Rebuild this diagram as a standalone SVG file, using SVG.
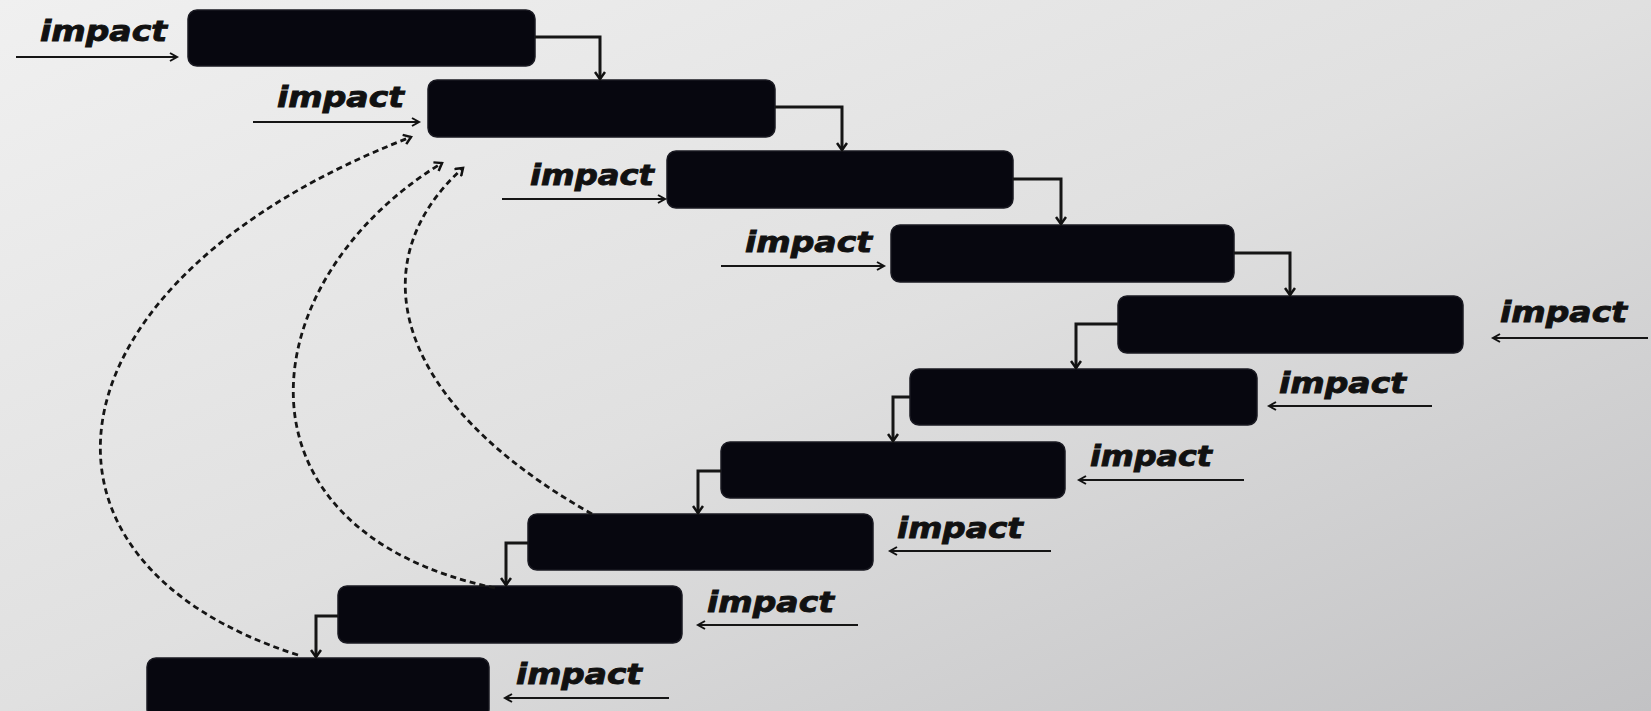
<svg xmlns="http://www.w3.org/2000/svg" width="1651" height="711" viewBox="0 0 1651 711">
<defs>
<linearGradient id="bg" x1="0" y1="0" x2="1" y2="1">
<stop offset="0" stop-color="#f0f0f0"/>
<stop offset="0.5" stop-color="#e0e0e0"/>
<stop offset="1" stop-color="#c2c2c4"/>
</linearGradient>
<marker id="ah" markerWidth="12" markerHeight="12" refX="9" refY="6" orient="auto" markerUnits="userSpaceOnUse">
<path d="M2,1 L9,6 L2,11" fill="none" stroke="#111" stroke-width="2.5"/>
</marker>
<marker id="ahs" markerWidth="12" markerHeight="12" refX="9" refY="6" orient="auto" markerUnits="userSpaceOnUse">
<path d="M2,2 L9,6 L2,10" fill="none" stroke="#111" stroke-width="2"/>
</marker>
</defs>
<style>
.box{fill:#07070f;stroke:#1a1a22;stroke-width:1.5}
.lbl{font-family:"DejaVu Sans",sans-serif;font-weight:bold;font-style:italic;font-size:28px;fill:#111;stroke:#111;stroke-width:0.9}
.flow{fill:none;stroke:#151515;stroke-width:3;marker-end:url(#ah)}
.imp{fill:none;stroke:#151515;stroke-width:2.2;marker-end:url(#ahs)}
.fb{fill:none;stroke:#151515;stroke-width:2.8;stroke-dasharray:6 4;marker-end:url(#ah)}
</style>
<rect width="1651" height="711" fill="url(#bg)"/>
<g id="node1"><rect class="box" x="188" y="10" width="347" height="56" rx="9"/></g>
<g id="node2"><rect class="box" x="428" y="80" width="347" height="57" rx="9"/></g>
<g id="node3"><rect class="box" x="667" y="151" width="346" height="57" rx="9"/></g>
<g id="node4"><rect class="box" x="891" y="225" width="343" height="57" rx="9"/></g>
<g id="node5"><rect class="box" x="1118" y="296" width="345" height="57" rx="9"/></g>
<g id="node6"><rect class="box" x="910" y="369" width="347" height="56" rx="9"/></g>
<g id="node7"><rect class="box" x="721" y="442" width="344" height="56" rx="9"/></g>
<g id="node8"><rect class="box" x="528" y="514" width="345" height="56" rx="9"/></g>
<g id="node9"><rect class="box" x="338" y="586" width="344" height="57" rx="9"/></g>
<g id="node10"><rect class="box" x="147" y="658" width="342" height="60" rx="9"/></g>
<g id="labels">
<text class="lbl" x="40" y="41" textLength="127" lengthAdjust="spacingAndGlyphs">impact</text>
<text class="lbl" x="277" y="107" textLength="127" lengthAdjust="spacingAndGlyphs">impact</text>
<text class="lbl" x="530" y="185" textLength="124" lengthAdjust="spacingAndGlyphs">impact</text>
<text class="lbl" x="745" y="252" textLength="127" lengthAdjust="spacingAndGlyphs">impact</text>
<text class="lbl" x="1500" y="322" textLength="127" lengthAdjust="spacingAndGlyphs">impact</text>
<text class="lbl" x="1279" y="393" textLength="127" lengthAdjust="spacingAndGlyphs">impact</text>
<text class="lbl" x="1090" y="466" textLength="122" lengthAdjust="spacingAndGlyphs">impact</text>
<text class="lbl" x="897" y="538" textLength="126" lengthAdjust="spacingAndGlyphs">impact</text>
<text class="lbl" x="707" y="612" textLength="127" lengthAdjust="spacingAndGlyphs">impact</text>
<text class="lbl" x="516" y="684" textLength="126" lengthAdjust="spacingAndGlyphs">impact</text>
</g>
<g id="connectors">
<path class="flow" d="M535,37 H600 V79"/>
<path class="flow" d="M775,107 H842 V150"/>
<path class="flow" d="M1013,179 H1061 V224"/>
<path class="flow" d="M1234,253 H1290 V295"/>
<path class="flow" d="M1118,324 H1076 V368"/>
<path class="flow" d="M910,397 H893 V441"/>
<path class="flow" d="M721,471 H698 V513"/>
<path class="flow" d="M528,543 H506 V585"/>
<path class="flow" d="M338,616 H316 V657"/>
<path class="imp" d="M16,57 H177"/>
<path class="imp" d="M253,122 H419"/>
<path class="imp" d="M502,199 H665"/>
<path class="imp" d="M721,266 H884"/>
<path class="imp" d="M1648,338 H1493"/>
<path class="imp" d="M1432,406 H1269"/>
<path class="imp" d="M1244,480 H1079"/>
<path class="imp" d="M1051,551 H890"/>
<path class="imp" d="M858,625 H698"/>
<path class="imp" d="M669,698 H505"/>
<path class="fb" d="M298,655 C0,560 40,280 411,137"/>
<path class="fb" d="M495,588 C220,530 250,280 442,163"/>
<path class="fb" d="M592,514 C390,400 360,260 463,168"/>
</g>
</svg>
